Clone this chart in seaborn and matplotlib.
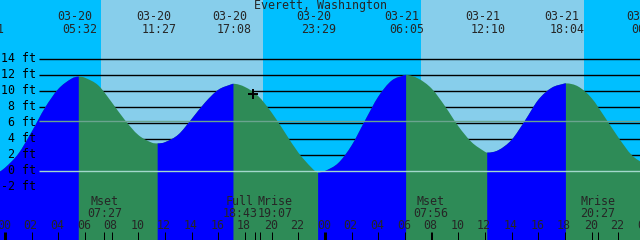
import numpy as np
import pandas as pd
import matplotlib
matplotlib.use("Agg")
import matplotlib.pyplot as plt
from matplotlib.path import Path
from matplotlib.patches import PathPatch
import seaborn as sns

# ---------------- data ----------------
station = "Everett, Washington"

# tide height (ft), hours since 03-20 00:00
curve_hours = [-0.5, 0, 1, 2, 3, 4, 5, 6, 7, 8, 9, 10, 11,
               12, 13, 14, 15, 16, 17, 18, 19, 20, 21, 22, 23,
               24, 25, 26, 27, 28, 29, 30, 31, 32, 33, 34, 35,
               36, 37, 38, 39, 40, 41, 42, 43, 44, 45, 46, 47, 48]
curve_feet = [-0.2, 0.4, 2.15, 4.9, 7.9, 10.25, 11.55, 11.65, 10.7, 8.6, 6.35, 4.5, 3.55,
              3.6, 4.55, 6.5, 8.55, 10.15, 10.85, 10.5, 9.35, 7.3, 4.8, 2.3, 0.4,
              0.0, 1.0, 3.2, 6.3, 9.3, 11.3, 12.0, 11.55, 10.3, 8.1, 5.6, 3.6,
              2.4, 2.6, 3.9, 6.3, 8.9, 10.4, 10.95, 10.55, 9.1, 6.7, 4.2, 2.0, 0.8]

# high / low tide events (labels along the top)
tide_days = [-1, 0, 0, 0, 0, 1, 1, 1, 2]
tide_dates = ["03-19", "03-20", "03-20", "03-20", "03-20", "03-21", "03-21", "03-21", "03-22"]
tide_times = ["22:31", "05:32", "11:27", "17:08", "23:29", "06:05", "12:10", "18:04", "00:13"]
tide_feet = [np.nan, 11.8, 3.45, 10.9, -0.2, 12.0, 2.3, 10.95, np.nan]

# sunrise / sunset
sun_days = [0, 0, 1, 1]
sun_times = ["07:12", "19:21", "07:10", "19:26"]

# moon events (labels along the bottom)
moon_days = [0, 0, 0, 1, 1]
moon_names = ["Mset", "Full", "Mrise", "Mset", "Mrise"]
moon_times = ["07:27", "18:43", "19:07", "07:56", "20:27"]

# current-time mark
now_time = "18:36"
now_feet = 9.6

y_levels = [-2, 0, 2, 4, 6, 8, 10, 12, 14]
msl_feet = 6.3
hour_labels = ["00", "02", "04", "06", "08", "10", "12", "14", "16", "18", "20", "22",
               "00", "02", "04", "06", "08", "10", "12", "14", "16", "18", "20", "22", "00"]


def to_hours(day, t):
    hh, mm = t.split(":")
    return day * 24 + int(hh) + int(mm) / 60.0


# ---------------- style ----------------
sns.set_theme(style="white")
plt.rcParams['font.family'] = ['DejaVu Sans Mono']
FS = 8.4
PX = 0.72  # one pixel in points at 100 dpi

C_NIGHT = "#00BFFF"
C_DAY = "#87CEEB"
C_FLOOD = "#0000FF"
C_EBB = "#2E8B57"

fig = plt.figure(figsize=(6.4, 2.4), dpi=100)
ax = fig.add_axes([0, 0, 1, 1])
X0, X1 = -0.375, 47.625
Y0, Y1 = -8.625, 21.375
ax.set_xlim(X0, X1)
ax.set_ylim(Y0, Y1)
ax.axis('off')
ax.set_facecolor(C_NIGHT)
fig.patch.set_facecolor(C_NIGHT)

# sky bands: night background, day bands on top
sun_h = [to_hours(d, t) for d, t in zip(sun_days, sun_times)]
for a, b in zip(sun_h[0::2], sun_h[1::2]):
    ax.axvspan(a, b, color=C_DAY, lw=0, zorder=0)

# grid lines (behind water)
GX = 2.55
for lv in y_levels:
    if lv != 0:
        ax.hlines(lv, GX, X1 + 1, color="black", lw=1.0, zorder=1)

# water
ext_h = [to_hours(d, t) for d, t in zip(tide_days, tide_times)]
df = pd.DataFrame({"hours": curve_hours, "feet": curve_feet, "ext": False})
ext = pd.DataFrame({"hours": ext_h, "feet": tide_feet, "ext": True}).dropna()
df = pd.concat([df, ext]).sort_values("hours").reset_index(drop=True)
t = df.hours.values.astype(float)
y = df.feet.values.astype(float)
is_ext = df.ext.values.astype(bool)
n = len(t)
m = np.zeros(n)
for i in range(n):
    if is_ext[i]:
        m[i] = 0.0
    elif i == 0:
        m[i] = (y[1] - y[0]) / (t[1] - t[0])
    elif i == n - 1:
        m[i] = (y[-1] - y[-2]) / (t[-1] - t[-2])
    else:
        m[i] = (y[i + 1] - y[i - 1]) / (t[i + 1] - t[i - 1])

BOT = Y0 - 1


def water_path(i0, i1):
    verts = [(t[i0], BOT), (t[i0], y[i0])]
    codes = [Path.MOVETO, Path.LINETO]
    for k in range(i0, i1):
        dt = t[k + 1] - t[k]
        verts += [(t[k] + dt / 3, y[k] + m[k] * dt / 3),
                  (t[k + 1] - dt / 3, y[k + 1] - m[k + 1] * dt / 3),
                  (t[k + 1], y[k + 1])]
        codes += [Path.CURVE4] * 3
    verts += [(t[i1], BOT), (t[i0], BOT)]
    codes += [Path.LINETO, Path.CLOSEPOLY]
    return Path(verts, codes)


# whole water in ebb colour, then flood segments on top
ax.add_patch(PathPatch(water_path(0, n - 1), facecolor=C_EBB, lw=0, zorder=2))
ext_idx = list(np.where(is_ext)[0])
seg_idx = [0] + ext_idx + [n - 1]
for j in range(len(seg_idx) - 1):
    if j % 2 == 0:
        ax.add_patch(PathPatch(water_path(seg_idx[j], seg_idx[j + 1]),
                               facecolor=C_FLOOD, lw=0, zorder=2.1))

# datum and mean sea level lines
ax.hlines(0, GX, X1 + 1, color="#a3d8cc", lw=1.0, zorder=3)
ax.hlines(msl_feet, GX, X1 + 1, color="#6aa48f", lw=1.0, zorder=3)

# y labels
for lv in y_levels:
    ax.text(2.33, lv, f"{lv} ft", ha="right", va="center", fontsize=FS, color="black", zorder=6)

# title
ax.text((X0 + X1) / 2, 20.75, station, ha="center", va="center", fontsize=FS, zorder=6)

# tide event labels
for h, dte, tm in zip(ext_h, tide_dates, tide_times):
    ax.text(h - 0.3, 19.25, dte, ha="center", va="center", fontsize=FS, zorder=6)
    ax.text(h + 0.075, 17.725, tm, ha="center", va="center", fontsize=FS, zorder=6)

# hour labels and ticks
for i, lab in enumerate(hour_labels):
    h = 2 * i
    ax.text(h - 0.075, -6.85, lab, ha="center", va="center", fontsize=FS, zorder=6)
    ax.vlines(h, Y0 - 0.5, -7.6, color="black", lw=(3 * PX if lab == "00" else PX), zorder=6)

# moon events
moon_h = [to_hours(d, t) for d, t in zip(moon_days, moon_times)]
pos = list(moon_h)
W = 35 / 13.333
for i in range(1, len(pos)):
    if pos[i] - pos[i - 1] < W:
        mid = (pos[i] + pos[i - 1]) / 2
        pos[i - 1] = mid - W / 2
        pos[i] = mid + W / 2
for h, p, nm, tm in zip(moon_h, pos, moon_names, moon_times):
    ax.text(p, -3.85, nm, ha="center", va="center", fontsize=FS, zorder=6)
    ax.text(p, -5.3, tm, ha="center", va="center", fontsize=FS, zorder=6)
    ax.vlines(h, Y0 - 0.5, -7.6, color="black", lw=PX, zorder=6)

# current time mark
sns.scatterplot(x=[to_hours(0, now_time)], y=[now_feet], ax=ax, marker="+", s=49,
                color="black", linewidth=1.4, zorder=7, legend=False)
ax.set_xlim(X0, X1)
ax.set_ylim(Y0, Y1)
ax.axis('off')

fig.savefig("out.png", dpi=100, facecolor=C_NIGHT)
